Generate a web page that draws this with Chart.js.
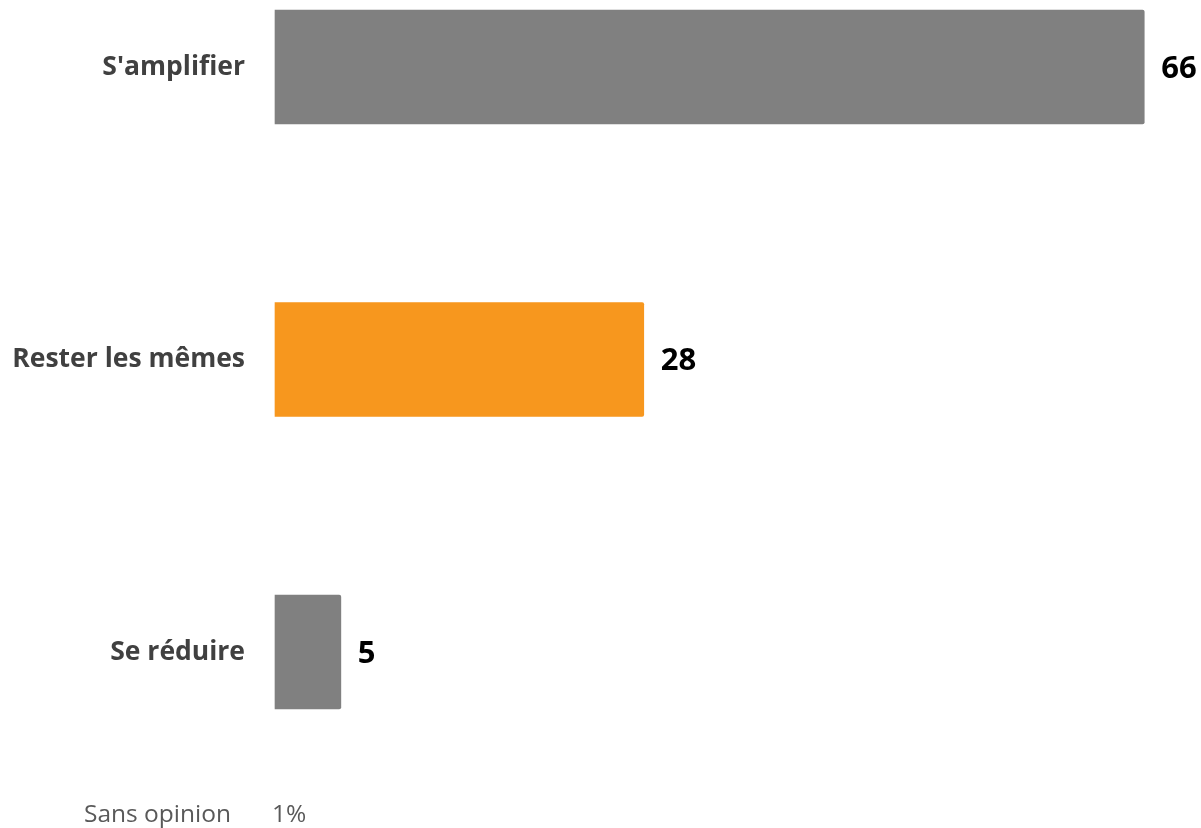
<!DOCTYPE html>
<html>
<head>
<meta charset="utf-8">
<script src="https://cdn.jsdelivr.net/npm/chart.js@4"></script>
<style>
  html, body { margin: 0; padding: 0; background: #fff; }
  #wrap { width: 1201px; height: 828px; position: relative; }
</style>
</head>
<body>
<div id="wrap"><canvas id="chart"></canvas></div>
<script>
// Data
const categories = ["S'amplifier", 'Rester les mêmes', 'Se réduire'];
const values = [66, 28, 5];
const barColors = ['#808080', '#F7971E', '#808080'];
const noOpinionLabel = 'Sans opinion';
const noOpinionValue = 1;

const FONT = "'Open Sans', sans-serif";

// value labels next to each bar + "Sans opinion" note
const labelsPlugin = {
  id: 'labels',
  afterDatasetsDraw(chart) {
    const ctx = chart.ctx;
    const meta = chart.getDatasetMeta(0);
    ctx.save();
    ctx.font = 'bold 31px ' + FONT;
    ctx.fillStyle = '#000';
    ctx.textBaseline = 'middle';
    ctx.textAlign = 'left';
    meta.data.forEach((bar, i) => {
      ctx.fillText(values[i], bar.x + 17, bar.y + 2);
    });
    // note under the chart
    const left = chart.chartArea.left;
    ctx.font = '24.5px ' + FONT;
    ctx.fillStyle = '#595959';
    ctx.textAlign = 'right';
    ctx.fillText(noOpinionLabel, left - 44, 815);
    ctx.textAlign = 'left';
    ctx.fillText(noOpinionValue + '%', left - 3, 815);
    ctx.restore();
  }
};

new Chart(document.getElementById('chart'), {
  type: 'bar',
  data: {
    labels: categories,
    datasets: [{
      data: values,
      backgroundColor: barColors,
      barThickness: 114,
      borderRadius: { topRight: 2, bottomRight: 2 },
      borderSkipped: 'left',
      clip: false
    }]
  },
  options: {
    indexAxis: 'y',
    responsive: true,
    maintainAspectRatio: false,
    animation: false,
    layout: { padding: { top: 67, bottom: 176, right: 10, left: 0 } },
    plugins: {
      legend: { display: false },
      tooltip: { enabled: false }
    },
    scales: {
      x: {
        display: false,
        min: 0,
        max: 69.55
      },
      y: {
        offset: false,
        border: { display: false },
        grid: { display: false, drawTicks: false },
        afterFit(scale) { scale.width = 275; },
        ticks: {
          padding: 30,
          color: '#404040',
          font: { family: FONT, size: 26.5, weight: 'bold' }
        }
      }
    }
  },
  plugins: [labelsPlugin]
});
</script>
</body>
</html>
